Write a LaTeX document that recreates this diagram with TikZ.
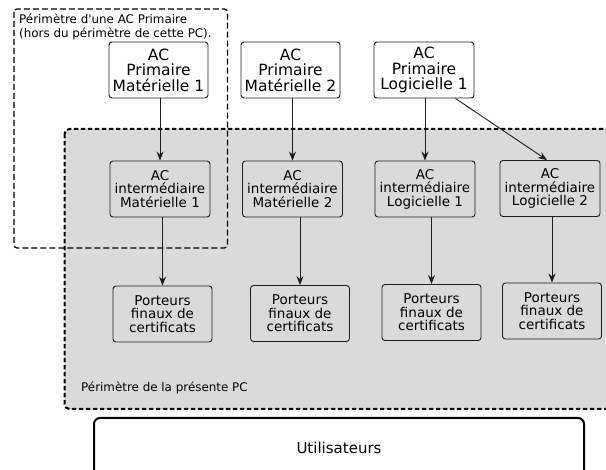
\documentclass[tikz,border=0pt]{standalone}
\usepackage{fontspec}
\setmainfont{DejaVu Sans}[Ligatures=TeXOff]
\usetikzlibrary{arrows.meta,calc}
\definecolor{bggray}{RGB}{218,218,218}
\definecolor{linec}{RGB}{30,30,30}
\tikzset{
  box/.style={draw=linec, line width=0.9pt, rounded corners=3pt, inner sep=0pt, align=center},
  prim/.style={box, fill=white, minimum width=99pt, minimum height=56pt, font=\fontsize{15.5}{15.5}\selectfont},
  inter/.style={box, fill=bggray, minimum width=100pt, minimum height=56pt, font=\fontsize{13.5}{13.4}\selectfont},
  fin/.style={box, fill=bggray, minimum width=99pt, minimum height=56pt, font=\fontsize{13.5}{13.4}\selectfont},
  arr/.style={draw=linec, line width=0.9pt, -{Stealth[length=9pt,width=7pt,inset=3pt]}},
  lbl/.style={inner sep=0pt, align=left, font=\fontsize{11.9}{14}\selectfont}
}
\begin{document}
\begin{tikzpicture}[x=1pt,y=-1pt]
\useasboundingbox (0,0) rectangle (606,470);
% perimeter of present PC
\draw[fill=bggray, draw=black, line width=2pt, dash pattern=on 4.5pt off 2.5pt, rounded corners=5pt] (64.5,129) rectangle (620,409);
% perimeter of primary AC
\draw[draw=black, line width=1.2pt, dash pattern=on 6pt off 3pt, rounded corners=3pt] (14,9) rectangle (227.5,248);
\node[lbl, anchor=north west] (lp) at (19,13.5) {Périmètre d'une AC Primaire\\(hors du périmètre de cette PC).};
\node[lbl, anchor=base west] (lpc) at (81,391.5) {Périmètre de la présente PC};
% primary
\node[prim] (P1) at (158.5,70) {AC\\Primaire\\Matérielle 1};
\node[prim] (P2) at (290.5,70) {AC\\Primaire\\Matérielle 2};
\node[prim, minimum width=100pt] (P3) at (424,70) {AC\\Primaire\\Logicielle 1};
% intermediate
\node[inter] (I1) at (160,189) {AC\\intermédiaire\\Matérielle 1};
\node[inter] (I2) at (292.5,189) {AC\\intermédiaire\\Matérielle 2};
\node[inter] (I3) at (425,189) {AC\\intermédiaire\\Logicielle 1};
\node[inter] (I4) at (550,188.5) {AC\\intermédiaire\\Logicielle 2};
% final
\node[fin] (F1) at (162.5,314) {Porteurs\\finaux de\\certificats};
\node[fin] (F2) at (300,313.5) {Porteurs\\finaux de\\certificats};
\node[fin] (F3) at (431.5,312.5) {Porteurs\\finaux de\\certificats};
\node[fin] (F4) at (552,311) {Porteurs\\finaux de\\certificats};
% users
\node[draw=black, line width=2pt, rounded corners=6pt, minimum width=490pt, minimum height=60pt, inner sep=0pt, font=\fontsize{15}{15}\selectfont] (U) at (339,448) {Utilisateurs};
% arrows
\draw[arr] (P1.south -| I1.north) -- (I1.north);
\draw[arr] (P2.south -| I2.north) -- (I2.north);
\draw[arr] (P3.south -| I3.north) -- (I3.north);
\draw[arr] ([xshift=-19pt]P3.south east) -- ([xshift=-3pt]I4.north);
\draw[arr] (I1.south -| F1.north) -- (F1.north);
\draw[arr] (I2.south -| F2.north) -- (F2.north);
\draw[arr] (I3.south -| F3.north) -- (F3.north);
\draw[arr] (I4.south -| F4.north) -- (F4.north);
\end{tikzpicture}
\end{document}
